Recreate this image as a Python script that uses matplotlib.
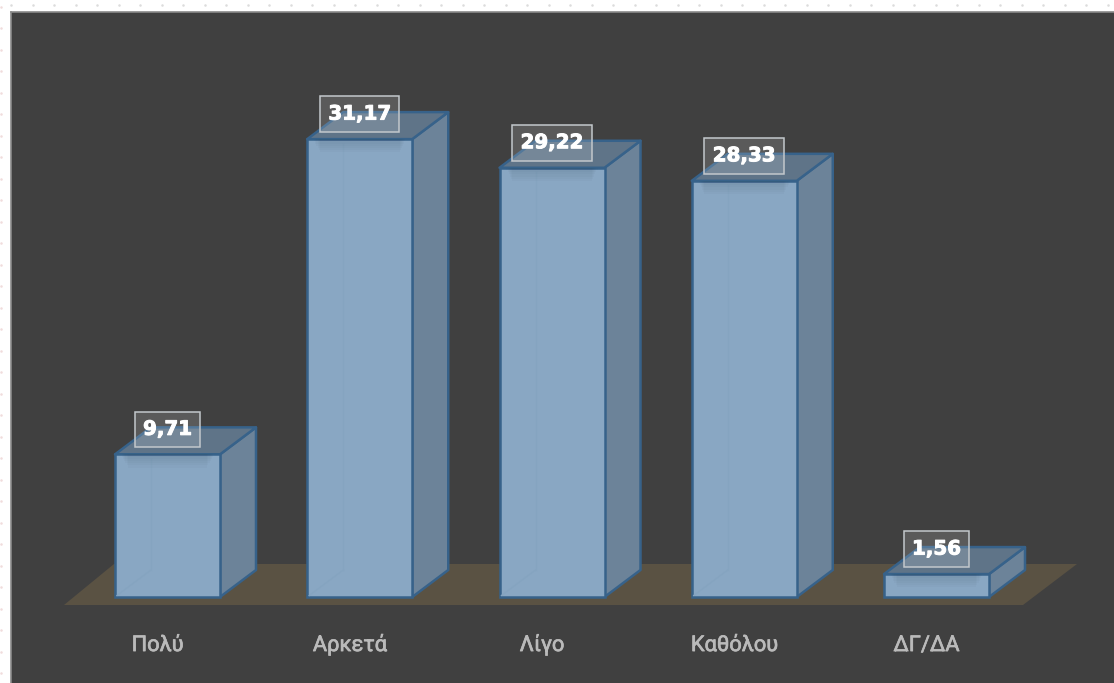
import numpy as np
from matplotlib import pyplot as plt
from matplotlib import patheffects as pe
from matplotlib.lines import Line2D
from matplotlib.patches import Polygon, Rectangle
from matplotlib.transforms import ScaledTranslation

categories = ["Πολύ", "Αρκετά", "Λίγο", "Καθόλου", "ΔΓ/ΔΑ"]
values = [9.71, 31.17, 29.22, 28.33, 1.56]
value_labels = ["9,71", "31,17", "29,22", "28,33", "1,56"]

W, H = 1114, 683
PANEL_LEFT, PANEL_TOP = 11, 12
STEP = 192.25         # px between categories
UNIT = 14.69          # px per value unit
FIRST = 167.5         # px of first bar centre
BASE = 597            # px of the zero line, from the top
BAR_W = 105 / STEP
DX, DY = 36 / STEP, 27 / UNIT  # fake 3d depth

EDGE = "#37628a"
FRONT = "#89a7c3"
SIDE = "#6c8399"
TOP = "#5f7488"
GHOST = "#85a4c0"

fig = plt.figure(figsize=(W / 100, H / 100), dpi=100, facecolor="white")
ax = fig.add_axes([PANEL_LEFT / W, 0, (W - PANEL_LEFT) / W, (H - PANEL_TOP) / H])
ax.set_facecolor("#404040")
ax.set_xlim((PANEL_LEFT - FIRST) / STEP, (W - FIRST) / STEP)
ax.set_ylim((BASE - H) / UNIT, (BASE - PANEL_TOP) / UNIT)

for side in ["right", "bottom"]:
    ax.spines[side].set_visible(False)
for side in ["left", "top"]:
    ax.spines[side].set_color("#8a8a8a")
    ax.spines[side].set_linewidth(1.2)

# floor under the bars
fx0, fx1 = (64 - FIRST) / STEP, (1023 - FIRST) / STEP
fy0, fy1 = (BASE - 605) / UNIT, (BASE - 564) / UNIT
ax.add_patch(Polygon([(fx0, fy0), (fx1, fy0), (fx1 + 54 / STEP, fy1), (fx0 + 50 / STEP, fy1)],
                     facecolor="#5a5243", edgecolor="none", zorder=1))

x = np.arange(len(categories))
ax.bar(x, values, width=BAR_W, color=FRONT, edgecolor=EDGE, linewidth=1.8, zorder=3)

for i, v in zip(x, values):
    l, r = i - BAR_W / 2, i + BAR_W / 2
    ax.add_patch(Polygon([(r, 0), (r + DX, DY), (r + DX, v + DY), (r, v)],
                         facecolor=SIDE, edgecolor=EDGE, linewidth=1.8, joinstyle="round", zorder=2))
    ax.add_patch(Polygon([(l, v), (l + DX, v + DY), (r + DX, v + DY), (r, v)],
                         facecolor=TOP, edgecolor=EDGE, linewidth=1.8, joinstyle="round", zorder=2))
    # back edges showing faintly through the front face
    if v > DY:
        ax.plot([l + DX, l + DX], [DY, v - 0.3], color=GHOST, lw=1, zorder=4)
        ax.plot([l + 0.01, l + DX], [0.1, DY], color=GHOST, lw=1, zorder=4)
    # soft shadow the label drops on the front face
    for k in range(1, 7):
        depth = min(k * 2.2 / UNIT, v - 0.1)
        ax.add_patch(Rectangle((l + 0.03 + k * 0.006, v - depth), BAR_W - 0.06 - k * 0.012, depth,
                               facecolor="#33465a", edgecolor="none", alpha=0.03, zorder=4))

bold = [pe.withStroke(linewidth=0.7, foreground="white")]
for i, v, s in zip(x, values, value_labels):
    ax.annotate(s, (i, v), xytext=(0, 18), textcoords="offset points", ha="center", va="center",
                color="white", fontsize=14.3, fontweight="bold", family="DejaVu Sans", zorder=7,
                path_effects=bold,
                bbox=dict(boxstyle="square,pad=0.42", facecolor=(1, 1, 1, 0.14),
                          edgecolor="#c3c8cc", lw=1.1))

ax.set_xticks(x)
ax.set_xticklabels(categories, family="Roboto", fontsize=15.7, color="#bababa", va="baseline")
ax.set_yticks([])
ax.tick_params(axis="x", length=0, pad=-23)
# category labels sit a little left of the bars
shift = ScaledTranslation(-10 / 100, 0, fig.dpi_scale_trans)
for label in ax.get_xticklabels():
    label.set_transform(label.get_transform() + shift)
    label.set_path_effects([pe.withStroke(linewidth=0.5, foreground="#bababa")])

# dotted page grid in the white margin
dots_x = np.arange(11, W, 21.5) / W
fig.add_artist(Line2D(dots_x, np.full_like(dots_x, 1 - 5 / H), ls="none", marker="o", ms=1.8,
                      color="#dcdcdc", mec="none"))
dots_y = np.arange(10, H, 21.5) / H
fig.add_artist(Line2D(np.full_like(dots_y, 1 / W), dots_y, ls="none", marker="o", ms=1.8,
                      color="#f0dcdc", mec="none"))

plt.savefig("out.png", dpi=100)
